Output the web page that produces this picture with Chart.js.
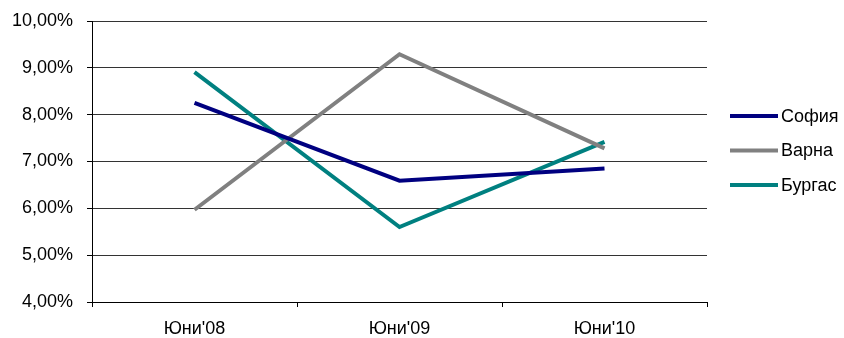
<!DOCTYPE html>
<html>
<head>
<meta charset="utf-8">
<script src="https://cdn.jsdelivr.net/npm/chart.js@4/dist/chart.umd.min.js"></script>
<style>
  html, body { margin: 0; padding: 0; background: #fff; }
  #wrap { width: 844px; height: 338px; }
</style>
</head>
<body>
<div id="wrap"><canvas id="rentChart"></canvas></div>
<script>
// Categories and series (percent)
const periods = ["Юни'08", "Юни'09", "Юни'10"];
const sofia = [8.25, 6.59, 6.85];
const varna = [5.97, 9.29, 7.28];
const burgas = [8.91, 5.60, 7.42];

const yTicks = { min: 4, max: 10, step: 1 };

Chart.defaults.font.family = "'Liberation Sans', Arial, sans-serif";
Chart.defaults.font.size = 18;
Chart.defaults.color = '#000';

const mkSet = (label, data, color) => ({
  label, data,
  borderColor: color,
  backgroundColor: color,
  borderWidth: 4,
  pointRadius: 0,
  tension: 0
});

// legend drawn by hand so it can sit where the original one sits
const sideLegend = {
  id: 'sideLegend',
  afterDraw(chart) {
    const ctx = chart.ctx;
    const x0 = chart.chartArea.right + 23;
    ctx.save();
    ctx.font = "18px 'Liberation Sans', Arial, sans-serif";
    ctx.textBaseline = 'middle';
    ctx.fillStyle = '#000';
    chart.data.datasets.forEach((ds, i) => {
      const y = 116 + i * 34.5;
      ctx.strokeStyle = ds.borderColor;
      ctx.lineWidth = 4;
      ctx.beginPath();
      ctx.moveTo(x0, y);
      ctx.lineTo(x0 + 48, y);
      ctx.stroke();
      ctx.fillText(ds.label, x0 + 51, y + 1);
    });
    ctx.restore();
  }
};

new Chart(document.getElementById('rentChart'), {
  type: 'line',
  data: {
    labels: periods,
    datasets: [
      mkSet('София', sofia, '#000080'),
      mkSet('Варна', varna, '#808080'),
      mkSet('Бургас', burgas, '#008080')
    ]
  },
  options: {
    responsive: true,
    maintainAspectRatio: false,
    animation: false,
    layout: { padding: { top: 21, right: 137, left: 8, bottom: 0 } },
    plugins: {
      tooltip: { enabled: false },
      legend: { display: false }
    },
    scales: {
      x: {
        offset: true,
        grid: { offset: true, drawOnChartArea: false, tickLength: 5, color: '#000' },
        border: { color: '#000' },
        ticks: { padding: 11 },
        afterFit: axis => { axis.height = 36; }
      },
      y: {
        min: yTicks.min, max: yTicks.max,
        ticks: {
          stepSize: yTicks.step, padding: 14,
          callback: v => v.toFixed(2).replace('.', ',') + '%'
        },
        grid: { color: '#333', tickLength: 5, tickColor: '#000' },
        border: { color: '#000' },
        afterFit: axis => {
          axis.width = 84;
          axis.paddingTop = 0;
          axis.paddingBottom = 0;
        }
      }
    }
  },
  plugins: [sideLegend]
});
</script>
</body>
</html>
